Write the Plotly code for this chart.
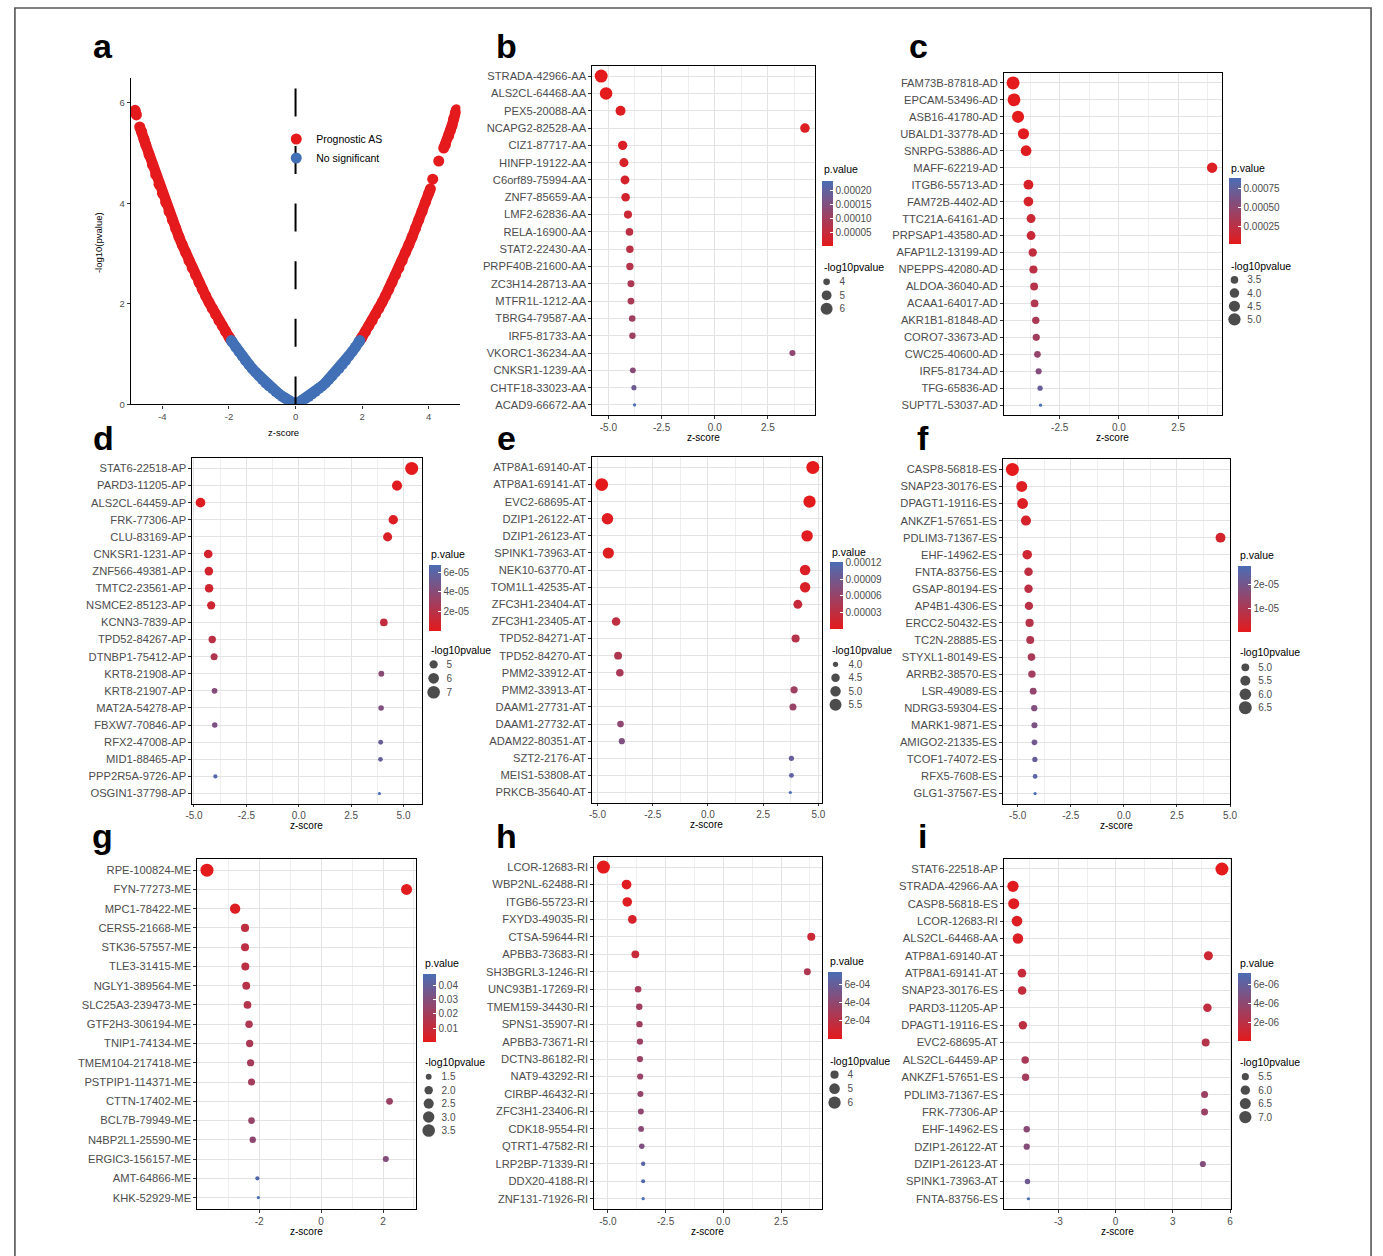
import numpy as np
import plotly.graph_objects as go

W, H = 1383, 1256
FONT = "Liberation Sans, Arial, Helvetica, sans-serif"
GRAY = "#4D4D4D"
RED = "#E41A1C"
BLUE = "#4270B6"
CSCALE = [[0, "#E41A1C"], [1, "#4A6DB5"]]
GRID = "#E3E3E3"
GRID_MINOR = "#EEEEEE"

# ---------------- data ----------------
# panel a: points of the prognostic (red) and non-significant (blue) AS events,
# grouped into the visually connected runs of points
a_red_left_z = [-1.96, -2.0, -2.1, -2.2, -2.3, -2.4, -2.5, -2.6, -2.7, -2.8, -2.9, -3.0, -3.1, -3.2, -3.3,
                -3.4, -3.5, -3.6, -3.7, -3.8, -3.9, -4.0, -4.1, -4.2, -4.3, -4.4, -4.5, -4.55, -4.62, -4.68]
a_red_left_y = [1.30, 1.34, 1.45, 1.56, 1.67, 1.79, 1.91, 2.03, 2.16, 2.29, 2.43, 2.57, 2.71, 2.86, 3.02,
                3.17, 3.33, 3.50, 3.67, 3.84, 4.02, 4.20, 4.38, 4.57, 4.77, 4.97, 5.17, 5.27, 5.42, 5.52]
a_red_left_top_z = [-4.78, -4.82]
a_red_left_top_y = [5.76, 5.85]
a_red_right_z = [1.96, 2.0, 2.1, 2.2, 2.3, 2.4, 2.5, 2.6, 2.7, 2.8, 2.9, 3.0, 3.1, 3.2, 3.3, 3.4, 3.5, 3.6,
                 3.7, 3.8, 3.9, 4.0, 4.05]
a_red_right_y = [1.30, 1.34, 1.45, 1.56, 1.67, 1.79, 1.91, 2.03, 2.16, 2.29, 2.43, 2.57, 2.71, 2.86, 3.02,
                 3.17, 3.33, 3.50, 3.67, 3.84, 4.02, 4.20, 4.29]
a_red_right_mid_z = [4.12, 4.3]
a_red_right_mid_y = [4.48, 4.84]
a_red_right_top_z = [4.45, 4.5, 4.6, 4.65, 4.7, 4.75, 4.8, 4.83]
a_red_right_top_y = [5.10, 5.17, 5.35, 5.45, 5.55, 5.68, 5.80, 5.86]
a_blue_z = [-1.93, -1.9, -1.8, -1.7, -1.6, -1.5, -1.4, -1.3, -1.2, -1.1, -1.0, -0.9, -0.8, -0.7, -0.6,
            -0.5, -0.4, -0.3, -0.2, -0.1, 0.0, 0.1, 0.2, 0.3, 0.4, 0.5, 0.6, 0.7, 0.8, 0.9, 1.0,
            1.1, 1.2, 1.3, 1.4, 1.5, 1.6, 1.7, 1.8, 1.9, 1.93]
a_blue_y = [1.27, 1.24, 1.14, 1.05, 0.96, 0.87, 0.79, 0.71, 0.64, 0.57, 0.50, 0.43, 0.37, 0.32, 0.26,
            0.21, 0.16, 0.12, 0.08, 0.04, 0.0, 0.04, 0.08, 0.12, 0.16, 0.21, 0.26, 0.32, 0.37, 0.43, 0.50,
            0.57, 0.64, 0.71, 0.79, 0.87, 0.96, 1.05, 1.14, 1.24, 1.27]
a_xticks = [-4, -2, 0, 2, 4]
a_yticks = [0, 2, 4, 6]

# panel b (AA)
b_genes = ["STRADA-42966-AA", "ALS2CL-64468-AA", "PEX5-20088-AA", "NCAPG2-82528-AA", "CIZ1-87717-AA",
           "HINFP-19122-AA", "C6orf89-75994-AA", "ZNF7-85659-AA", "LMF2-62836-AA", "RELA-16900-AA",
           "STAT2-22430-AA", "PRPF40B-21600-AA", "ZC3H14-28713-AA", "MTFR1L-1212-AA", "TBRG4-79587-AA",
           "IRF5-81733-AA", "VKORC1-36234-AA", "CNKSR1-1239-AA", "CHTF18-33023-AA", "ACAD9-66672-AA"]
b_z = [-5.34, -5.11, -4.43, 4.24, -4.33, -4.27, -4.22, -4.19, -4.08, -4.01, -3.99, -3.99, -3.94, -3.94,
       -3.88, -3.87, 3.65, -3.85, -3.80, -3.77]
b_p = [2.5e-7, 4.5e-7, 9e-6, 1.3e-5, 1.6e-5, 2.0e-5, 2.4e-5, 2.8e-5, 4.2e-5, 6.0e-5, 6.5e-5, 7.0e-5,
       8.5e-5, 9.0e-5, 1.05e-4, 1.1e-4, 1.3e-4, 1.4e-4, 1.8e-4, 2.35e-4]
b_cb_ticks = [5e-5, 1e-4, 1.5e-4, 2e-4]
b_cb_labels = ["0.00005", "0.00010", "0.00015", "0.00020"]
b_size_breaks = ["4", "5", "6"]
b_xticks = [-5.0, -2.5, 0.0, 2.5]

# panel c (AD)
c_genes = ["FAM73B-87818-AD", "EPCAM-53496-AD", "ASB16-41780-AD", "UBALD1-33778-AD", "SNRPG-53886-AD",
           "MAFF-62219-AD", "ITGB6-55713-AD", "FAM72B-4402-AD", "TTC21A-64161-AD", "PRPSAP1-43580-AD",
           "AFAP1L2-13199-AD", "NPEPPS-42080-AD", "ALDOA-36040-AD", "ACAA1-64017-AD", "AKR1B1-81848-AD",
           "CORO7-33673-AD", "CWC25-40600-AD", "IRF5-81734-AD", "TFG-65836-AD", "SUPT7L-53037-AD"]
c_z = [-4.47, -4.43, -4.26, -4.03, -3.92, 3.93, -3.82, -3.82, -3.71, -3.71, -3.64, -3.61, -3.58, -3.56,
       -3.51, -3.49, -3.44, -3.39, -3.33, -3.31]
c_p = [5e-6, 6e-6, 1.2e-5, 2.8e-5, 4.0e-5, 5.5e-5, 8.0e-5, 9.0e-5, 1.5e-4, 1.6e-4, 2.1e-4, 2.4e-4,
       2.7e-4, 3.0e-4, 3.4e-4, 3.8e-4, 4.6e-4, 5.6e-4, 7.2e-4, 8.9e-4]
c_cb_ticks = [2.5e-4, 5e-4, 7.5e-4]
c_cb_labels = ["0.00025", "0.00050", "0.00075"]
c_size_breaks = ["3.5", "4.0", "4.5", "5.0"]
c_xticks = [-2.5, 0.0, 2.5]

# panel d (AP)
d_genes = ["STAT6-22518-AP", "PARD3-11205-AP", "ALS2CL-64459-AP", "FRK-77306-AP", "CLU-83169-AP",
           "CNKSR1-1231-AP", "ZNF566-49381-AP", "TMTC2-23561-AP", "NSMCE2-85123-AP", "KCNN3-7839-AP",
           "TPD52-84267-AP", "DTNBP1-75412-AP", "KRT8-21908-AP", "KRT8-21907-AP", "MAT2A-54278-AP",
           "FBXW7-70846-AP", "RFX2-47008-AP", "MID1-88465-AP", "PPP2R5A-9726-AP", "OSGIN1-37798-AP"]
d_z = [5.39, 4.69, -4.69, 4.51, 4.24, -4.32, -4.29, -4.28, -4.18, 4.06, -4.13, -4.04, 3.94, -4.02, 3.93,
       -4.01, 3.91, 3.90, -3.98, 3.85]
d_p = [5e-8, 1.7e-6, 2.8e-6, 3.5e-6, 5e-6, 7e-6, 7.5e-6, 8e-6, 1.0e-5, 1.5e-5, 1.8e-5, 2.3e-5, 4.0e-5,
       4.2e-5, 4.4e-5, 4.6e-5, 5.5e-5, 5.7e-5, 6.3e-5, 6.8e-5]
d_cb_ticks = [2e-5, 4e-5, 6e-5]
d_cb_labels = ["2e-05", "4e-05", "6e-05"]
d_size_breaks = ["5", "6", "7"]
d_xticks = [-5.0, -2.5, 0.0, 2.5, 5.0]

# panel e (AT)
e_genes = ["ATP8A1-69140-AT", "ATP8A1-69141-AT", "EVC2-68695-AT", "DZIP1-26122-AT", "DZIP1-26123-AT",
           "SPINK1-73963-AT", "NEK10-63770-AT", "TOM1L1-42535-AT", "ZFC3H1-23404-AT", "ZFC3H1-23405-AT",
           "TPD52-84271-AT", "TPD52-84270-AT", "PMM2-33912-AT", "PMM2-33913-AT", "DAAM1-27731-AT",
           "DAAM1-27732-AT", "ADAM22-80351-AT", "SZT2-2176-AT", "MEIS1-53808-AT", "PRKCB-35640-AT"]
e_z = [4.75, -4.81, 4.60, -4.55, 4.49, -4.51, 4.40, 4.40, 4.07, -4.16, 3.97, -4.07, -3.99, 3.90, 3.85,
       -3.96, -3.90, 3.78, 3.78, 3.73]
e_p = [1.2e-6, 1.5e-6, 2.3e-6, 4.4e-6, 4.6e-6, 5.5e-6, 9e-6, 1.0e-5, 2.5e-5, 3.0e-5, 3.8e-5, 4.2e-5,
       4.8e-5, 5.5e-5, 6.0e-5, 6.8e-5, 8.0e-5, 1.0e-4, 1.05e-4, 1.21e-4]
e_cb_ticks = [3e-5, 6e-5, 9e-5, 1.2e-4]
e_cb_labels = ["0.00003", "0.00006", "0.00009", "0.00012"]
e_size_breaks = ["4.0", "4.5", "5.0", "5.5"]
e_xticks = [-5.0, -2.5, 0.0, 2.5, 5.0]

# panel f (ES)
f_genes = ["CASP8-56818-ES", "SNAP23-30176-ES", "DPAGT1-19116-ES", "ANKZF1-57651-ES", "PDLIM3-71367-ES",
           "EHF-14962-ES", "FNTA-83756-ES", "GSAP-80194-ES", "AP4B1-4306-ES", "ERCC2-50432-ES",
           "TC2N-28885-ES", "STYXL1-80149-ES", "ARRB2-38570-ES", "LSR-49089-ES", "NDRG3-59304-ES",
           "MARK1-9871-ES", "AMIGO2-21335-ES", "TCOF1-74072-ES", "RFX5-7608-ES", "GLG1-37567-ES"]
f_z = [-5.25, -4.81, -4.77, -4.61, 4.55, -4.55, -4.49, -4.49, -4.47, -4.44, -4.41, -4.35, -4.33, -4.27,
       -4.22, -4.21, -4.21, -4.19, -4.18, -4.18]
f_p = [3e-7, 1.6e-6, 1.8e-6, 3.0e-6, 3.4e-6, 4.2e-6, 7.2e-6, 7.6e-6, 8.0e-6, 8.6e-6, 9.5e-6, 1.1e-5,
       1.2e-5, 1.5e-5, 1.8e-5, 1.9e-5, 2.1e-5, 2.3e-5, 2.5e-5, 2.8e-5]
f_cb_ticks = [1e-5, 2e-5]
f_cb_labels = ["1e-05", "2e-05"]
f_size_breaks = ["5.0", "5.5", "6.0", "6.5"]
f_xticks = [-5.0, -2.5, 0.0, 2.5, 5.0]

# panel g (ME)
g_genes = ["RPE-100824-ME", "FYN-77273-ME", "MPC1-78422-ME", "CERS5-21668-ME", "STK36-57557-ME",
           "TLE3-31415-ME", "NGLY1-389564-ME", "SLC25A3-239473-ME", "GTF2H3-306194-ME", "TNIP1-74134-ME",
           "TMEM104-217418-ME", "PSTPIP1-114371-ME", "CTTN-17402-ME", "BCL7B-79949-ME", "N4BP2L1-25590-ME",
           "ERGIC3-156157-ME", "AMT-64866-ME", "KHK-52929-ME"]
g_z = [-3.69, 2.76, -2.78, -2.46, -2.46, -2.45, -2.42, -2.38, -2.33, -2.31, -2.28, -2.25, 2.21, -2.25,
       -2.21, 2.09, -2.06, -2.03]
g_p = [2.0e-4, 1.5e-3, 2.5e-3, 1.2e-2, 1.25e-2, 1.3e-2, 1.4e-2, 1.5e-2, 1.7e-2, 1.8e-2, 1.9e-2, 2.0e-2,
       2.3e-2, 2.4e-2, 2.6e-2, 3.0e-2, 4.5e-2, 4.77e-2]
g_cb_ticks = [0.01, 0.02, 0.03, 0.04]
g_cb_labels = ["0.01", "0.02", "0.03", "0.04"]
g_size_breaks = ["1.5", "2.0", "2.5", "3.0", "3.5"]
g_xticks = [-2, 0, 2]

# panel h (RI)
h_genes = ["LCOR-12683-RI", "WBP2NL-62488-RI", "ITGB6-55723-RI", "FXYD3-49035-RI", "CTSA-59644-RI",
           "APBB3-73683-RI", "SH3BGRL3-1246-RI", "UNC93B1-17269-RI", "TMEM159-34430-RI", "SPNS1-35907-RI",
           "APBB3-73671-RI", "DCTN3-86182-RI", "NAT9-43292-RI", "CIRBP-46432-RI", "ZFC3H1-23406-RI",
           "CDK18-9554-RI", "QTRT1-47582-RI", "LRP2BP-71339-RI", "DDX20-4188-RI", "ZNF131-71926-RI"]
h_z = [-5.19, -4.19, -4.16, -3.94, 3.81, -3.81, 3.64, -3.69, -3.64, -3.63, -3.61, -3.61, -3.60, -3.59,
       -3.57, -3.56, -3.53, -3.47, -3.47, -3.47]
h_p = [4e-7, 2.5e-5, 3.0e-5, 7.0e-5, 1.2e-4, 1.4e-4, 2.5e-4, 2.9e-4, 3.2e-4, 3.3e-4, 3.4e-4, 3.5e-4,
       3.6e-4, 3.8e-4, 4.0e-4, 4.3e-4, 4.8e-4, 6.5e-4, 6.9e-4, 7.3e-4]
h_cb_ticks = [2e-4, 4e-4, 6e-4]
h_cb_labels = ["2e-04", "4e-04", "6e-04"]
h_size_breaks = ["4", "5", "6"]
h_xticks = [-5.0, -2.5, 0.0, 2.5]

# panel i (top 20 overall)
i_genes = ["STAT6-22518-AP", "STRADA-42966-AA", "CASP8-56818-ES", "LCOR-12683-RI", "ALS2CL-64468-AA",
           "ATP8A1-69140-AT", "ATP8A1-69141-AT", "SNAP23-30176-ES", "PARD3-11205-AP", "DPAGT1-19116-ES",
           "EVC2-68695-AT", "ALS2CL-64459-AP", "ANKZF1-57651-ES", "PDLIM3-71367-ES", "FRK-77306-AP",
           "EHF-14962-ES", "DZIP1-26122-AT", "DZIP1-26123-AT", "SPINK1-73963-AT", "FNTA-83756-ES"]
i_z = [5.57, -5.38, -5.34, -5.17, -5.12, 4.86, -4.91, -4.90, 4.81, -4.86, 4.72, -4.74, -4.72, 4.66, 4.66,
       -4.66, -4.66, 4.57, -4.62, -4.57]
i_p = [5e-8, 2.5e-7, 3e-7, 4e-7, 4.5e-7, 1.2e-6, 1.5e-6, 1.6e-6, 1.7e-6, 1.8e-6, 2.3e-6, 2.8e-6,
       3.0e-6, 3.4e-6, 3.5e-6, 4.2e-6, 4.4e-6, 4.6e-6, 5.5e-6, 7.2e-6]
i_cb_ticks = [2e-6, 4e-6, 6e-6]
i_cb_labels = ["2e-06", "4e-06", "6e-06"]
i_size_breaks = ["5.5", "6.0", "6.5", "7.0"]
i_xticks = [-3, 0, 3, 6]

panel_data = {
    "b": (b_genes, b_z, b_p, b_cb_ticks, b_cb_labels, b_size_breaks, b_xticks),
    "c": (c_genes, c_z, c_p, c_cb_ticks, c_cb_labels, c_size_breaks, c_xticks),
    "d": (d_genes, d_z, d_p, d_cb_ticks, d_cb_labels, d_size_breaks, d_xticks),
    "e": (e_genes, e_z, e_p, e_cb_ticks, e_cb_labels, e_size_breaks, e_xticks),
    "f": (f_genes, f_z, f_p, f_cb_ticks, f_cb_labels, f_size_breaks, f_xticks),
    "g": (g_genes, g_z, g_p, g_cb_ticks, g_cb_labels, g_size_breaks, g_xticks),
    "h": (h_genes, h_z, h_p, h_cb_ticks, h_cb_labels, h_size_breaks, h_xticks),
    "i": (i_genes, i_z, i_p, i_cb_ticks, i_cb_labels, i_size_breaks, i_xticks),
}

# ---------------- layout geometry (pixels) ----------------
geom = {
    "b": dict(box=(591, 66, 816, 417), xr=(-5.77, 4.70), cb=(823, 182, 834, 247), cbt=170, slt=268, sl0=283, slx=828, sp=13.5),
    "c": dict(box=(1007, 73, 1227, 417), xr=(-4.86, 4.33), cb=(1234, 179, 1246, 245), cbt=169, slt=267, sl0=281, slx=1240, sp=13.2),
    "d": dict(box=(187, 460, 419, 807), xr=(-5.09, 5.87), cb=(426, 567, 438, 633), cbt=556, slt=653, sl0=667, slx=431, sp=14),
    "e": dict(box=(591, 459, 823, 806), xr=(-5.25, 5.15), cb=(831, 564, 844, 631), cbt=554, slt=653, sl0=667, slx=837, sp=13.5),
    "f": dict(box=(1006, 461, 1236, 807), xr=(-5.70, 5.02), cb=(1244, 568, 1257, 634), cbt=557, slt=655, sl0=670, slx=1251, sp=13.5),
    "g": dict(box=(192, 862, 413, 1214), xr=(-4.01, 3.06), cb=(420, 978, 433, 1046), cbt=967, slt=1066, sl0=1081, slx=426, sp=13.5),
    "h": dict(box=(593, 860, 823, 1214), xr=(-5.6, 4.26), cb=(829, 976, 843, 1043), cbt=965, slt=1065, sl0=1079, slx=836, sp=14),
    "i": dict(box=(1007, 862, 1237, 1214), xr=(-5.86, 6.07), cb=(1244, 977, 1257, 1045), cbt=967, slt=1066, sl0=1081, slx=1251, sp=13.5),
}
letters = {"a": (97, 46), "b": (505, 46), "c": (921, 46), "d": (97, 440), "e": (505, 440),
           "f": (925, 440), "g": (96, 839), "h": (505, 839), "i": (925, 839)}
DMIN, DMAX = 3.2, 13.0
BAND = 10.5


def xdom(l, r):
    return [l / W, r / W]


def ydom(t, b):
    return [1 - b / H, 1 - t / H]


def ann(text, x, y, size=10.5, xanchor="center", yanchor="middle", angle=0, color="black"):
    return dict(text=text, x=x / W, y=1 - y / H, xref="paper", yref="paper", xanchor=xanchor,
                yanchor=yanchor, showarrow=False, textangle=angle,
                font=dict(size=size, color=color, family=FONT))


fig = go.Figure()
layout = {}
annotations = []
shapes = []

# ---------------- panel a ----------------
def band(zs, ys, color, name=None, legend=False, connect=True):
    if connect and len(zs) > 1:
        fig.add_trace(go.Scatter(x=zs, y=ys, mode="lines", line=dict(color=color, width=BAND),
                                 showlegend=False, hoverinfo="skip", xaxis="x", yaxis="y"))
    fig.add_trace(go.Scatter(x=zs, y=ys, mode="markers", name=name, showlegend=legend,
                             marker=dict(color=color, size=BAND + 0.5, line=dict(width=0)),
                             hoverinfo="skip", xaxis="x", yaxis="y"))


band(a_red_left_z, a_red_left_y, RED, "Prognostic AS", legend=True)
band(a_red_left_top_z, a_red_left_top_y, RED)
band(a_red_right_z, a_red_right_y, RED)
band(a_red_right_mid_z, a_red_right_mid_y, RED, connect=False)
band(a_red_right_top_z, a_red_right_top_y, RED)
band(a_blue_z, a_blue_y, BLUE, "No significant", legend=True)

axis_a = dict(showline=True, mirror=False, linecolor="black", linewidth=1.3, ticks="outside",
              ticklen=3, tickcolor="#333", showgrid=False, zeroline=False,
              tickfont=dict(size=9.5, color=GRAY, family=FONT))
layout["xaxis"] = dict(axis_a, domain=xdom(125, 458), range=[-4.95, 4.95], anchor="y",
                       tickvals=a_xticks, ticktext=[str(v) for v in a_xticks])
layout["yaxis"] = dict(axis_a, domain=ydom(78, 406), range=[0, 6.5], anchor="x",
                       tickvals=a_yticks, ticktext=[str(v) for v in a_yticks])
shapes.append(dict(type="line", xref="x", yref="y", x0=0, x1=0, y0=0, y1=6.5,
                   line=dict(color="black", width=2, dash="28px,29.6px")))
annotations.append(ann("z-score", (125 + 458) / 2 - 12, 434, size=9.5))
annotations.append(ann("-log10(pvalue)", 92, 244, size=9.5, angle=-90))
layout["legend"] = dict(x=272 / W, y=1 - 125 / H, xanchor="left", yanchor="top",
                        bgcolor="rgba(0,0,0,0)", font=dict(size=10.5, color="black", family=FONT),
                        itemwidth=30, tracegroupgap=0)

# ---------------- dot panels ----------------
for idx, key in enumerate("bcdefghi"):
    n = idx + 2
    m = n + 8
    genes, zs, ps, cbt_vals, cbt_text, sbreaks, xticks = panel_data[key]
    g = geom[key]
    l, t, r, b = g["box"]
    ps_arr = np.array(ps, dtype=float)
    lp = -np.log10(ps_arr)
    vmin, vmax = lp.min(), lp.max()

    def dia(v, vmin=vmin, vmax=vmax):
        tt = np.clip((np.asarray(v, dtype=float) - vmin) / (vmax - vmin), 0, 1)
        return DMIN + (DMAX - DMIN) * np.sqrt(tt)

    fig.add_trace(go.Scatter(
        x=zs, y=genes, mode="markers", showlegend=False, hoverinfo="skip",
        marker=dict(size=dia(lp), color=ps, coloraxis=f"coloraxis{n}", line=dict(width=0), opacity=1),
        xaxis=f"x{n}", yaxis=f"y{n}"))

    # axes
    step = xticks[1] - xticks[0]
    minor_vals = [v + step / 2 for v in [xticks[0] - step] + list(xticks)]
    minor_vals = [v for v in minor_vals if g["xr"][0] < v < g["xr"][1]]
    if isinstance(xticks[0], float):
        xt_text = [f"{v:.1f}" for v in xticks]
    else:
        xt_text = [f"{v:d}" for v in xticks]
    common = dict(showline=True, mirror=True, linecolor="black", linewidth=1.3, zeroline=False,
                  ticks="outside", ticklen=2.5, tickcolor="#333", showgrid=True, gridcolor=GRID, gridwidth=1)
    layout[f"xaxis{n}"] = dict(common, domain=xdom(l, r), range=list(g["xr"]), anchor=f"y{n}",
                               tickvals=xticks, ticktext=xt_text,
                               tickfont=dict(size=10, color=GRAY, family=FONT),
                               minor=dict(tickvals=minor_vals, showgrid=True, gridcolor=GRID_MINOR,
                                          gridwidth=0.7, ticks=""))
    nn = len(genes)
    layout[f"yaxis{n}"] = dict(common, domain=ydom(t, b), anchor=f"x{n}", type="category",
                               categoryorder="array", categoryarray=genes,
                               range=[nn - 1 + 0.6, -0.6],
                               tickfont=dict(size=11.2, color=GRAY, family=FONT))
    annotations.append(ann("z-score", (l + r) / 2, b + 22, size=10))

    # colour bar
    cx0, cy0, cx1, cy1 = g["cb"]
    layout[f"coloraxis{n}"] = dict(
        cmin=float(ps_arr.min()), cmax=float(ps_arr.max()), colorscale=CSCALE,
        colorbar=dict(x=cx0 / W, xanchor="left", y=1 - cy0 / H, yanchor="top",
                      len=cy1 - cy0, lenmode="pixels", thickness=cx1 - cx0, thicknessmode="pixels",
                      xpad=0, ypad=0, outlinewidth=0, borderwidth=0, title=dict(text=""),
                      tickvals=cbt_vals, ticktext=cbt_text, ticks="inside", ticklen=3,
                      tickcolor="white", tickwidth=1,
                      tickfont=dict(size=10, color=GRAY, family=FONT)))
    annotations.append(ann("p.value", cx0, g["cbt"], xanchor="left"))

    # size legend
    sp = g["sp"]
    ns = len(sbreaks)
    top = g["sl0"] - sp / 2
    fig.add_trace(go.Scatter(
        x=[0] * ns, y=sbreaks, mode="markers", showlegend=False, hoverinfo="skip",
        marker=dict(size=dia([float(s) for s in sbreaks]), color="black", line=dict(width=0)),
        xaxis=f"x{m}", yaxis=f"y{m}", cliponaxis=False))
    layout[f"xaxis{m}"] = dict(domain=xdom(g["slx"] - 12, g["slx"] + 12), range=[-1, 1], visible=False,
                               anchor=f"y{m}", fixedrange=True)
    layout[f"yaxis{m}"] = dict(domain=ydom(top, top + sp * ns), anchor=f"x{m}", side="right",
                               type="category", categoryorder="array", categoryarray=sbreaks,
                               range=[ns - 0.5, -0.5], showgrid=False, showline=False, zeroline=False,
                               ticks="", tickfont=dict(size=10, color=GRAY, family=FONT), fixedrange=True)
    annotations.append(ann("-log10pvalue", cx0, g["slt"], xanchor="left"))

# panel letters
for k, (lx, ly) in letters.items():
    annotations.append(ann(f"<b>{k}</b>", lx, ly, size=34))

# outer frame
shapes.append(dict(type="rect", xref="paper", yref="paper", x0=8 / W, x1=1378 / W, y0=-0.02, y1=1 - 8 / H,
                   line=dict(color="#555555", width=1.6), fillcolor="rgba(0,0,0,0)"))

fig.update_layout(**layout)
fig.update_layout(width=W, height=H, margin=dict(l=0, r=0, t=0, b=0), paper_bgcolor="white",
                  plot_bgcolor="white", annotations=annotations, shapes=shapes, showlegend=True,
                  font=dict(family=FONT, color="black"))
fig.write_html("out.html")
